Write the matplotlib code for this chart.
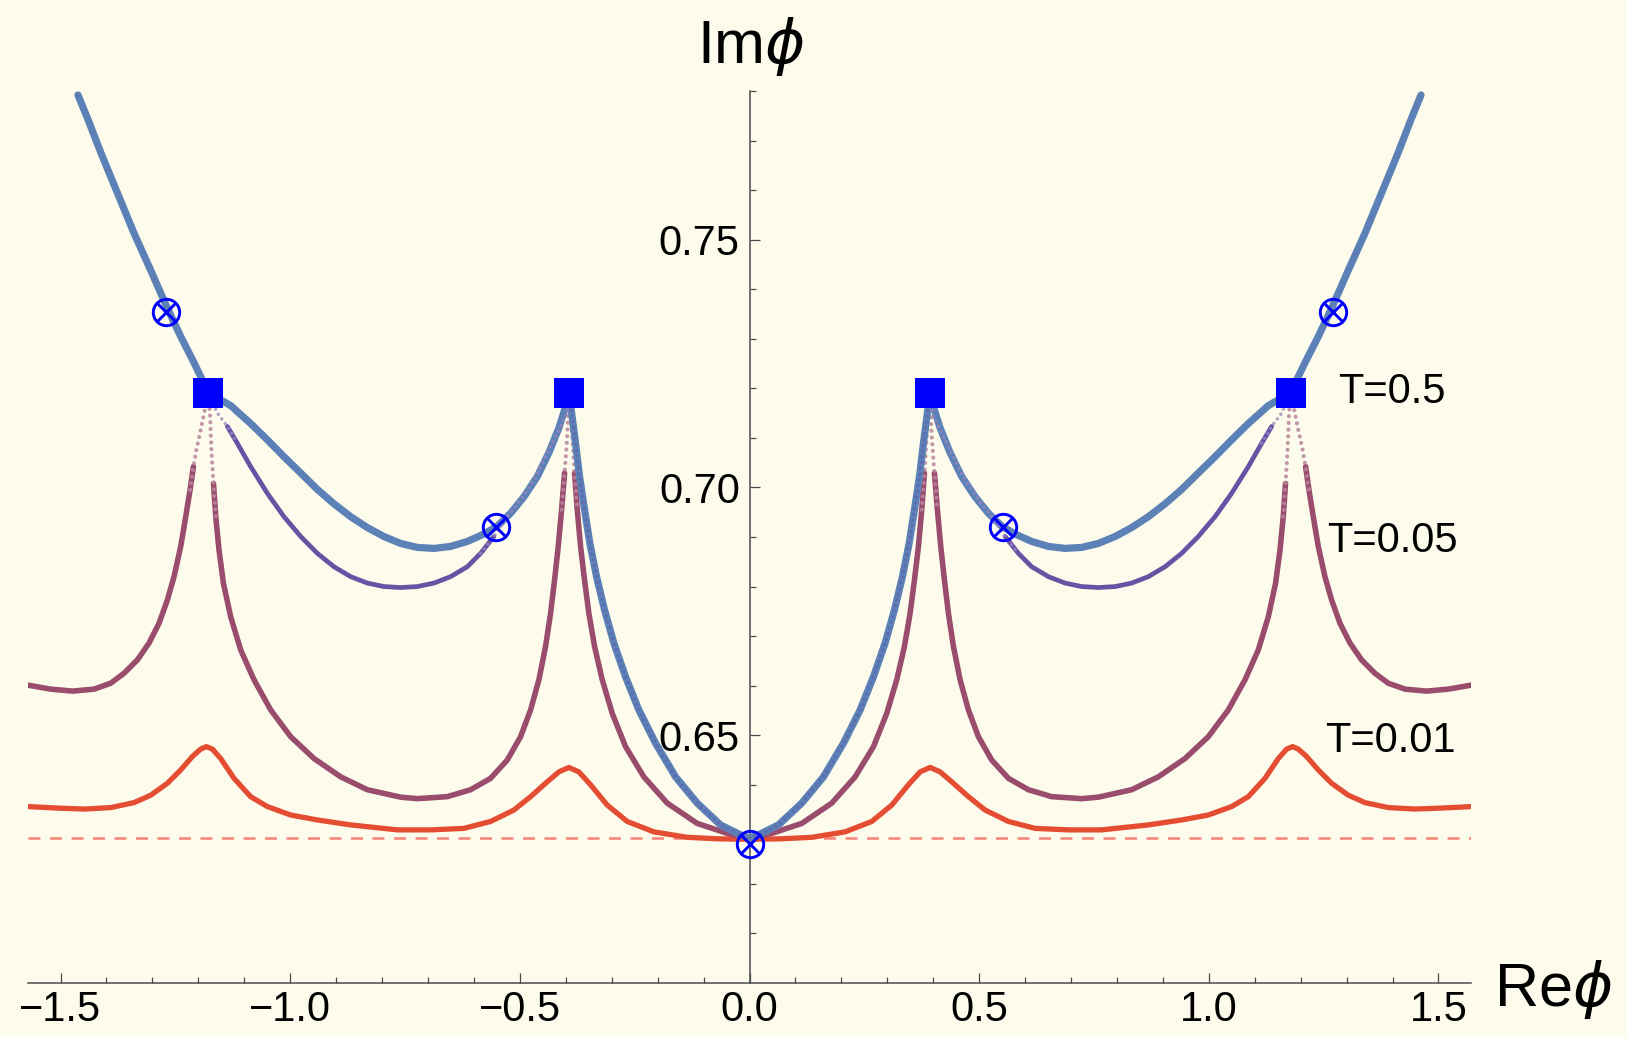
import numpy as np
import matplotlib
matplotlib.use("Agg")
import matplotlib.pyplot as plt
from matplotlib.ticker import FixedLocator, FixedFormatter

plt.rcParams['font.family'] = ['Liberation Sans', 'DejaVu Sans']
plt.rcParams['mathtext.fontset'] = 'dejavusans'

# ---------------- data (left half, x <= 0; the chart is mirror-symmetric) ----------------
# T = 0.5 (blue)
blue_x = [-1.462, -1.440, -1.412, -1.376, -1.340, -1.304, -1.269, -1.238, -1.209, -1.195,
          -1.186, -1.178, -1.160, -1.144, -1.128, -1.115, -1.086, -1.0496, -1.0135, -0.977,
          -0.9408, -0.9047, -0.8683, -0.832, -0.7959, -0.7595, -0.7232, -0.687, -0.6507, -0.6144,
          -0.5782, -0.549, -0.5201, -0.4912, -0.462, -0.4368, -0.415, -0.403, -0.3927,
          -0.388, -0.3787, -0.370, -0.3591, -0.3475, -0.333, -0.3156, -0.2953, -0.2699, -0.2409,
          -0.2046, -0.161, -0.1138, -0.0631, -0.0196, 0.0]
blue_y = [0.7792, 0.7742, 0.7675, 0.7594, 0.7513, 0.7439, 0.7365, 0.7304, 0.7251, 0.7224,
          0.7207, 0.7190, 0.7180, 0.7173, 0.7164, 0.7153, 0.7129, 0.7096, 0.7062, 0.7029,
          0.6996, 0.6967, 0.6941, 0.6919, 0.6901, 0.6887, 0.6879, 0.6877, 0.6881, 0.6891,
          0.6906, 0.6922, 0.6948, 0.6981, 0.7022, 0.7070, 0.7120, 0.7155, 0.7190,
          0.7156, 0.7089, 0.7022, 0.6955, 0.6887, 0.6820, 0.6753, 0.6686, 0.6618, 0.6551,
          0.6484, 0.6416, 0.6363, 0.6319, 0.6299, 0.6292]

# intermediate branch (purple arc between the squares)
purple_x = [-1.178, -1.1585, -1.1367, -1.115, -1.086, -1.0496, -1.0135, -0.977, -0.9408, -0.9047,
            -0.8683, -0.832, -0.7959, -0.7595, -0.7232, -0.687, -0.6507, -0.6144, -0.5854, -0.5565,
            -0.5273, -0.4984, -0.4695, -0.4403, -0.4113, -0.3968, -0.3927]
purple_y = [0.7190, 0.7150, 0.7123, 0.7089, 0.7042, 0.6988, 0.6941, 0.6901, 0.6867, 0.6840,
            0.6820, 0.6807, 0.6800, 0.6798, 0.6800, 0.6807, 0.6820, 0.6840, 0.6867, 0.6901,
            0.6941, 0.6975, 0.7015, 0.7069, 0.7123, 0.7150, 0.7190]

# T = 0.05 (maroon)
maroon_x = [-1.5708, -1.5212, -1.474, -1.427, -1.3906, -1.3617, -1.3326, -1.3073, -1.2855, -1.2673,
            -1.2528, -1.2383, -1.2274, -1.218, -1.2107, -1.2042, -1.195, -1.186, -1.178,
            -1.1745, -1.1715, -1.167, -1.162, -1.155, -1.1454, -1.1295, -1.1077, -1.0788, -1.0424,
            -0.9989, -0.9482, -0.890, -0.832, -0.7595, -0.7232, -0.658, -0.6072, -0.5637, -0.5273,
            -0.4984, -0.4766, -0.4585, -0.444, -0.4331, -0.4244, -0.4164, -0.4091, -0.4026, -0.3968,
            -0.3927, -0.3859, -0.3808, -0.375, -0.3678, -0.3591, -0.3497, -0.3373, -0.3206, -0.2988,
            -0.2699, -0.230, -0.1791, -0.1138, -0.0485, 0.0]
maroon_y = [0.6601, 0.6593, 0.6589, 0.6593, 0.6605, 0.6625, 0.6652, 0.6686, 0.6726, 0.6773,
            0.6820, 0.6881, 0.6941, 0.6995, 0.7042, 0.7076, 0.7115, 0.7156, 0.7190,
            0.7146, 0.7076, 0.7008, 0.6941, 0.6874, 0.6807, 0.6739, 0.6672, 0.6612, 0.6551,
            0.6497, 0.6453, 0.6416, 0.6390, 0.6375, 0.6372, 0.6376, 0.6390, 0.6413, 0.6450,
            0.6497, 0.6551, 0.6612, 0.6679, 0.6746, 0.6813, 0.6881, 0.6955, 0.7029, 0.7103,
            0.7190, 0.7103, 0.7029, 0.6955, 0.6881, 0.6813, 0.6746, 0.6679, 0.6612, 0.6544,
            0.6477, 0.6416, 0.6363, 0.6322, 0.6302, 0.6292]

# T = 0.01 (red)
red_x = [-1.5708, -1.5067, -1.4487, -1.3906, -1.340, -1.3036, -1.2673, -1.2383, -1.2129, -1.1948,
         -1.1825, -1.1694, -1.1513, -1.1223, -1.086, -1.0496, -0.9989, -0.9408, -0.8683, -0.7667,
         -0.6942, -0.6218, -0.5637, -0.513, -0.4766, -0.4403, -0.415, -0.3933, -0.3715, -0.346,
         -0.3097, -0.2662, -0.2083, -0.1356, -0.0703, 0.0]
red_y = [0.6356, 0.6353, 0.6351, 0.6354, 0.6364, 0.6379, 0.6403, 0.6430, 0.6457, 0.6472,
         0.6477, 0.6472, 0.6453, 0.6413, 0.6376, 0.6356, 0.6339, 0.6329, 0.6319, 0.6309,
         0.6309, 0.6312, 0.6326, 0.6349, 0.6376, 0.6406, 0.6426, 0.6435, 0.6426, 0.6400,
         0.6359, 0.6326, 0.6305, 0.6294, 0.6291, 0.6290]

asymptote_y = 0.6292

square_x = [-1.1781, -0.3927, 0.3927, 1.1781]
square_y = [0.719, 0.719, 0.719, 0.719]
otimes_x = [-1.271, -0.552, 0.0, 0.552, 1.271]
otimes_y = [0.7355, 0.6921, 0.628, 0.6921, 0.7355]

labels = ["T=0.5", "T=0.05", "T=0.01"]
label_x = [1.282, 1.257, 1.2535]
label_y = [0.7170, 0.6870, 0.6467]

xticks_major = [-1.5, -1.0, -0.5, 0.0, 0.5, 1.0, 1.5]
xtick_labels = ["\u22121.5", "\u22121.0", "\u22120.5", "0.0", "0.5", "1.0", "1.5"]
yticks_major = [0.65, 0.70, 0.75]
ytick_labels = ["0.65", "0.70", "0.75"]

# ---------------- helpers ----------------
def mirror(x, y):
    x = np.asarray(x, float); y = np.asarray(y, float)
    if x[-1] == 0.0:
        return np.concatenate([x, -x[::-1][1:]]), np.concatenate([y, y[::-1][1:]])
    return np.concatenate([x, [np.nan], -x[::-1]]), np.concatenate([y, [np.nan], y[::-1]])

def ext(mask):
    m = mask.copy()
    m[1:] |= mask[:-1]
    m[:-1] |= mask[1:]
    return m

BG = '#FDFBEC'
C_BLUE = '#5B81B7'
C_PURPLE = '#6653A3'
C_MAROON = '#9A4C6C'
C_RED = '#E44D31'
C_DASH = '#F98279'

fig = plt.figure(figsize=(16.27, 10.37), dpi=100, facecolor=BG)
ax = fig.add_axes([28/1627, 54/1037, 1443/1627, 892/1037])
ax.set_facecolor(BG)
ax.set_xlim(-np.pi/2, np.pi/2)
ax.set_ylim(0.60, 0.78)

dot = dict(linestyle=(0, (0.01, 1.6)), dash_capstyle='round')
rj = dict(solid_joinstyle='round', solid_capstyle='round')

# dashed asymptote
ax.axhline(asymptote_y, color=C_DASH, lw=1.8, dashes=(4.8, 3.8), zorder=1)

# red
rx, ry = mirror(red_x, red_y)
ax.plot(rx, ry, color=C_RED, lw=3.8, zorder=2, **rj)

# maroon with dotted tips near the cusps
mx, my = mirror(maroon_x, maroon_y)
near = my > 0.7005
ax.plot(mx, np.where(ext(~near), my, np.nan), color=C_MAROON, lw=4.0, zorder=3, **rj)
ax.plot(mx, np.where(ext(near), my, np.nan), color='#B8879D', lw=3.0, alpha=0.85, zorder=3, **dot)

# blue
bx, by = mirror(blue_x, blue_y)
ax.plot(bx, by, color=C_BLUE, lw=5.2, zorder=4, **rj)

# purple dots along the central blue branch
central = np.abs(bx) <= 0.3927
ax.plot(bx, np.where(central & (by < 0.716), by, np.nan), color='#5F5CA8', lw=2.6, alpha=0.55,
        zorder=5, **dot)
# sparse purple dots along the outer blue branch
outer = np.abs(bx) >= 1.2
ax.plot(bx, np.where(outer, by, np.nan), color='#7460A8', lw=2.4, alpha=0.35,
        zorder=5, linestyle=(0, (0.01, 12)), dash_capstyle='round')

# purple arcs (solid in the middle, faint dots near the ends)
px, py = mirror(purple_x, purple_y)
solid_p = (np.abs(px) > 0.56) & (np.abs(px) < 1.12)
ax.plot(px, np.where(ext(solid_p), py, np.nan), color=C_PURPLE, lw=3.4, zorder=5, **rj)
ax.plot(px, np.where(ext(~solid_p) & ~np.isnan(px), py, np.nan), color='#9A86BE', lw=2.6,
        alpha=0.75, zorder=5, **dot)

# markers
ax.plot(square_x, square_y, linestyle='none', marker='s', markersize=20.9, color='#0000FF',
        markeredgewidth=0, zorder=8, clip_on=False)
ax.plot(otimes_x, otimes_y, linestyle='none', marker='o', markersize=19, markerfacecolor='none',
        markeredgecolor='#0000FF', markeredgewidth=2.1, zorder=9, clip_on=False)
ax.plot(otimes_x, otimes_y, linestyle='none', marker='x', markersize=13.4,
        markeredgecolor='#0000FF', markeredgewidth=2.1, zorder=9, clip_on=False)

# curve labels
for t, x, y in zip(labels, label_x, label_y):
    ax.text(x, y, t, fontsize=30, ha='left', va='baseline', color='black', zorder=10)

# axes styling
for s in ['top', 'right']:
    ax.spines[s].set_visible(False)
ax.spines['left'].set_position(('data', 0.0))
ax.spines['bottom'].set_position(('data', 0.60))
for s in ['left', 'bottom']:
    ax.spines[s].set_color('#4a4a4a')
    ax.spines[s].set_linewidth(1.1)
    ax.spines[s].set_zorder(0.5)

ax.xaxis.set_major_locator(FixedLocator(xticks_major))
ax.xaxis.set_major_formatter(FixedFormatter(xtick_labels))
ax.xaxis.set_minor_locator(FixedLocator([v / 10 for v in range(-15, 16) if v % 5 != 0]))
ax.yaxis.set_major_locator(FixedLocator(yticks_major))
ax.yaxis.set_major_formatter(FixedFormatter(ytick_labels))
ax.yaxis.set_minor_locator(FixedLocator([v / 100 for v in range(61, 79) if v % 5 != 0]))

ax.tick_params(axis='both', which='both', direction='in', color='#4a4a4a', width=0.9)
ax.tick_params(axis='both', which='major', length=7.2, labelsize=30)
ax.tick_params(axis='both', which='minor', length=4.3)
ax.tick_params(axis='x', which='major', pad=5)
ax.tick_params(axis='y', which='major', pad=7)

fig.text(696.7/1627, (1037-63)/1037, r'Im$\phi$', fontsize=44, ha='left', va='baseline')
fig.text(1494/1627, (1037-1006)/1037, r'Re$\phi$', fontsize=44, ha='left', va='baseline')

fig.savefig('out.png', dpi=100, facecolor=BG)
